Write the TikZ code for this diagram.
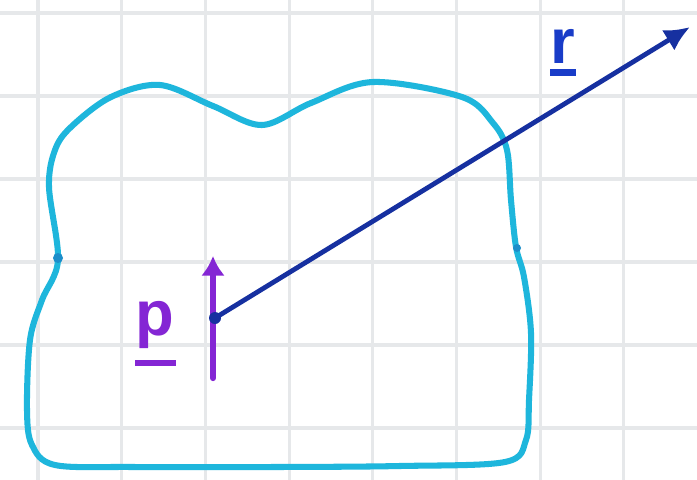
\documentclass[tikz,border=0pt]{standalone}
\usepackage{fontspec}
\setmainfont{Liberation Sans}
\usepackage{xcolor}
\usetikzlibrary{arrows.meta}
\usetikzlibrary{math}

\definecolor{gridgray}{RGB}{230,232,234}
\definecolor{blobcyan}{RGB}{30,182,220}
\definecolor{arrowblue}{RGB}{22,48,160}
\definecolor{labelblue}{RGB}{25,60,200}
\definecolor{dipolepurple}{RGB}{132,38,212}

% letter with a thick bar under it; #1 = drop of the bar
\newcommand{\ulvec}[2][8pt]{\setbox0\hbox{#2}\rlap{\copy0}\raisebox{-#1}{\rule{1.05\wd0}{4.5pt}}}

\tikzset{
  gridline/.style={gridgray, line width=2.2pt},
  blobline/.style={blobcyan, line width=4.3pt, line join=round},
  vecname/.style={font=\fontsize{45}{45}\selectfont\bfseries, inner sep=0pt, anchor=base west},
}

\begin{document}
\begin{tikzpicture}[x=0.025cm, y=-0.025cm]
\tikzmath{
\gx=83.7;
\gy=83;
}
\useasboundingbox (0,0) rectangle (697,480);
\fill[white] (0,0) rectangle (697,480);

% paper grid
\foreach \i in {0,...,7}
  \draw[gridline] (38+\i*\gx,0) -- +(0,480);
\foreach \j in {0,...,5}
  \draw[gridline] (0,13+\j*\gy) -- +(697,0);

% the body
\draw[blobline] plot[smooth cycle, tension=0.55] coordinates {
  (111,97) (160,85) (213,106) (262,125) (311,103) (373,82) (462,97)
  (493,123) (507,150) (511,200) (516,247) (524,277) (531,333) (529,400)
  (526,440) (505,462) (400,466) (276,467) (133,467) (55,465) (32,445)
  (27,410) (30,340) (42,300) (58,260) (49,187) (55,150) (71,127)};
\fill[blobcyan!70!arrowblue] (58,258) circle (5);
\fill[blobcyan!70!arrowblue] (517,248) circle (4);

% points
\coordinate (src) at (215,318);
\coordinate (far) at (690,27);
\coordinate (ptail) at (213,378);
\coordinate (phead) at (213,256);

\draw[dipolepurple, line width=4.5pt, line cap=round,
  -{Latex[length=14pt, width=17pt]}] (ptail) -- (phead);
\draw[arrowblue, line width=3.4pt, line cap=round,
  -{Latex[length=18pt, width=17pt]}] (src) -- (far);
\fill[arrowblue] (src) circle (6);

\node[vecname, labelblue] (rlab) at (550,63) {\ulvec[9pt]{r}};
\node[vecname, dipolepurple] (plab) at (135,335) {\ulvec[22pt]{p}};
\end{tikzpicture}
\end{document}
